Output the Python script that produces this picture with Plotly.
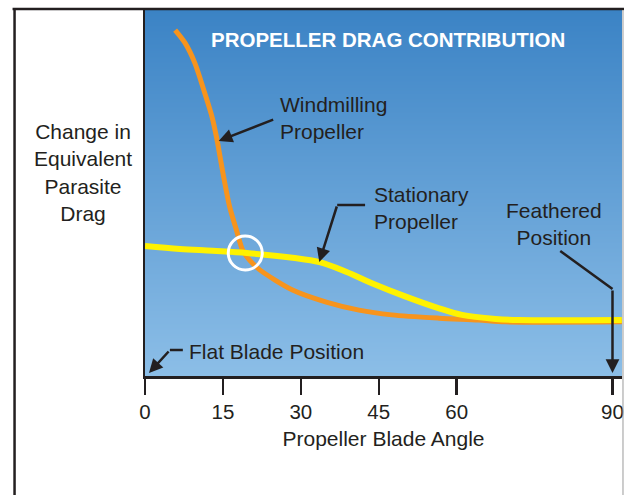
import plotly.graph_objects as go

# ---- data ----
angle_ticks = [0, 15, 30, 45, 60, 90]
tick_labels = ["0", "15", "30", "45", "60", "90"]

windmill_angle = [5.8, 7.7, 9.6, 11.5, 12.9, 13.8, 15.0, 16.3, 17.6, 18.8, 20.1,
                  22.1, 28.4, 34.9, 41.2, 47.5, 56.6, 64.2, 69.4, 91.8]
windmill_drag = [94.5, 91.0, 85.5, 77.3, 70.8, 65.0, 55.5, 46.2, 39.9, 34.4, 31.7,
                 29.0, 23.5, 20.2, 18.0, 16.7, 15.8, 15.3, 14.8, 14.8]

stationary_angle = [0, 6.7, 13.0, 19.6, 28.4, 33.6, 38.7, 43.8, 50.2, 56.6,
                    61.0, 67.5, 71.9, 91.8]
stationary_drag = [35.5, 34.7, 34.2, 33.6, 32.3, 31.1, 28.5, 25.3, 21.7, 18.5,
                   16.7, 15.6, 15.3, 15.3]

crossing_angle = 19.3
crossing_drag = 33.6
feathered_angle = 90

X_MAX = 91.83
Y_MAX = 100

# ---- layout geometry helpers (pixel -> paper) ----
W, H = 626, 495
L, R, T, B = 145, 624, 10, 376   # plot area in pixels


def px(x):
    return (x - L) / (R - L)


def py(y):
    return (B - y) / (B - T)


FEATHER_PX = L + feathered_angle * (R - L) / X_MAX

INK = "#231f20"
FONT = "Liberation Sans, Arial, Helvetica, sans-serif"

fig = go.Figure()

# gradient background
fig.add_trace(go.Heatmap(
    x=[0, X_MAX], y=[0, Y_MAX], z=[[0, 0], [1, 1]],
    colorscale=[[0, "#8cbee7"], [1, "#3b83c5"]],
    zsmooth="best", showscale=False, hoverinfo="skip",
))

fig.add_trace(go.Scatter(
    x=windmill_angle, y=windmill_drag, mode="lines",
    line=dict(color="#f7941d", width=5, shape="spline", smoothing=0.8),
    hoverinfo="skip", showlegend=False,
))
fig.add_trace(go.Scatter(
    x=stationary_angle, y=stationary_drag, mode="lines",
    line=dict(color="#fff200", width=6, shape="spline", smoothing=1.0),
    hoverinfo="skip", showlegend=False,
))

shapes = []
# outer frame
shapes.append(dict(type="line", xref="paper", yref="paper",
                   x0=px(12), x1=px(626), y0=py(9), y1=py(9),
                   line=dict(color=INK, width=2.5)))
shapes.append(dict(type="line", xref="paper", yref="paper",
                   x0=px(14), x1=px(14), y0=py(8), y1=py(495),
                   line=dict(color=INK, width=2.5)))
shapes.append(dict(type="line", xref="paper", yref="paper",
                   x0=px(625), x1=px(625), y0=py(10), y1=py(495),
                   line=dict(color="#9a9a9a", width=1)))
# leader line segments
for (x0, y0, x1, y1) in [(366, 205, 338, 205),
                         (562, 251, FEATHER_PX, 289),
                         (183, 350, 170, 350)]:
    shapes.append(dict(type="line", xref="paper", yref="paper",
                       x0=px(x0), x1=px(x1), y0=py(y0), y1=py(y1),
                       line=dict(color=INK, width=2.5)))
# crossing circle
shapes.append(dict(type="circle", xref="x", yref="y",
                   xsizemode="pixel", ysizemode="pixel",
                   xanchor=crossing_angle, yanchor=crossing_drag,
                   x0=-17, x1=17, y0=-17, y1=17,
                   line=dict(color="white", width=3), layer="above"))

annotations = []


def text_ann(text, x, y, xanchor="center", size=21, color=INK, bold=False, align="center"):
    if bold:
        text = "<b>" + text + "</b>"
    annotations.append(dict(text=text, xref="paper", yref="paper",
                            x=px(x), y=py(y), xanchor=xanchor, yanchor="middle",
                            showarrow=False, align=align,
                            font=dict(family=FONT, size=size, color=color)))


text_ann("PROPELLER DRAG CONTRIBUTION", 388.7, 40, size=20.5, color="white", bold=True)
text_ann("Change in<br>Equivalent<br>Parasite<br>Drag", 83, 172)
text_ann("Windmilling<br>Propeller", 279, 118, xanchor="left", align="left")
text_ann("Stationary<br>Propeller", 373, 208, xanchor="left", align="left")
text_ann("Feathered<br>Position", 555.5, 224)
text_ann("Flat Blade Position", 187, 351, xanchor="left", align="left")


def arrow(tipx, tipy, tailx, taily):
    annotations.append(dict(text="", xref="paper", yref="paper",
                            x=px(tipx), y=py(tipy),
                            ax=tailx - tipx, ay=taily - tipy,
                            axref="pixel", ayref="pixel",
                            showarrow=True, arrowhead=2, arrowsize=1.1,
                            arrowwidth=2.5, arrowcolor=INK,
                            standoff=0, startstandoff=0))


arrow(219, 141, 275, 119)
arrow(320, 262, 338, 205)
arrow(FEATHER_PX, 373, FEATHER_PX, 289)
arrow(149, 373, 170, 350)

fig.update_layout(
    width=W, height=H, autosize=False,
    margin=dict(l=L, r=W - R, t=T, b=H - B, pad=0),
    paper_bgcolor="white", plot_bgcolor="#64a0d6",
    showlegend=False,
    font=dict(family=FONT, color=INK, size=21),
    shapes=shapes, annotations=annotations,
    xaxis=dict(range=[0, X_MAX], showgrid=False, zeroline=False,
               showline=True, linecolor=INK, linewidth=2.5,
               ticks="outside", ticklen=16, tickwidth=2.5, tickcolor=INK,
               tickvals=angle_ticks, ticktext=tick_labels,
               tickfont=dict(family=FONT, size=20.5, color=INK),
               title=dict(text="Propeller Blade Angle", standoff=9,
                          font=dict(family=FONT, size=21, color=INK))),
    yaxis=dict(range=[0, Y_MAX], showgrid=False, zeroline=False,
               showline=True, linecolor=INK, linewidth=2.5,
               showticklabels=False, ticks=""),
)

# remove the default page margin so the figure fills the 626x495 window exactly
fig.write_html(
    "out.html",
    config={"displayModeBar": False, "staticPlot": True},
    post_script="document.body.style.margin='0';document.body.style.overflow='hidden';",
)
